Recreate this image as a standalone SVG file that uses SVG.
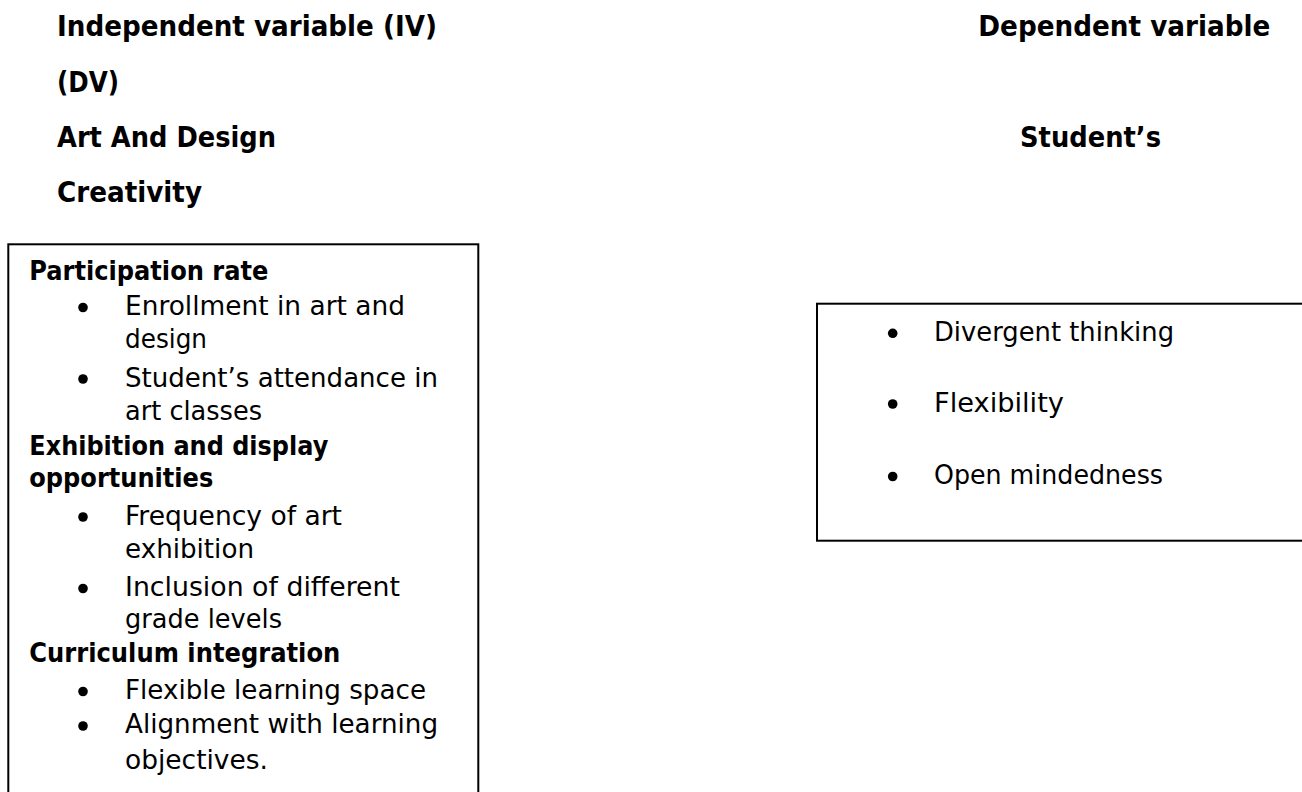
<svg xmlns="http://www.w3.org/2000/svg" width="1302" height="792" viewBox="0 0 1302 792">
<style>
  text { font-family: "DejaVu Sans", "Noto Sans", sans-serif; fill: #000; }
  .h { font-size: 29px; font-weight: bold; }
  .b { font-size: 26px; font-weight: bold; }
  .t { font-size: 26px; }
  .box { fill: #fff; stroke: #000; stroke-width: 2; }
  .dot { fill: #000; }
</style>
<rect width="1302" height="792" fill="#fff"/>
<g id="headings">
  <text class="h" x="57" y="36" textLength="380" lengthAdjust="spacingAndGlyphs">Independent variable (IV)</text>
  <text class="h" x="57" y="92" textLength="62" lengthAdjust="spacingAndGlyphs">(DV)</text>
  <text class="h" x="57" y="147" textLength="219" lengthAdjust="spacingAndGlyphs">Art And Design</text>
  <text class="h" x="57" y="202" textLength="145" lengthAdjust="spacingAndGlyphs">Creativity</text>
  <text class="h" x="978.3" y="36" textLength="292" lengthAdjust="spacingAndGlyphs">Dependent variable</text>
  <text class="h" x="1020" y="147" textLength="141" lengthAdjust="spacingAndGlyphs">Student’s</text>
</g>
<g id="iv-box">
  <rect class="box" x="8.3" y="244.3" width="470" height="600"/>
  <text class="b" x="29.3" y="280" textLength="239" lengthAdjust="spacingAndGlyphs">Participation rate</text>
  <circle class="dot" cx="83" cy="307.5" r="4.8"/>
  <text class="t" x="125" y="315" textLength="280" lengthAdjust="spacingAndGlyphs">Enrollment in art and</text>
  <text class="t" x="125" y="348" textLength="82" lengthAdjust="spacingAndGlyphs">design</text>
  <circle class="dot" cx="83" cy="379" r="4.8"/>
  <text class="t" x="125" y="387" textLength="313" lengthAdjust="spacingAndGlyphs">Student’s attendance in</text>
  <text class="t" x="125" y="420" textLength="137" lengthAdjust="spacingAndGlyphs">art classes</text>
  <text class="b" x="29.3" y="455" textLength="299" lengthAdjust="spacingAndGlyphs">Exhibition and display</text>
  <text class="b" x="29.3" y="487" textLength="184" lengthAdjust="spacingAndGlyphs">opportunities</text>
  <circle class="dot" cx="83" cy="517" r="4.8"/>
  <text class="t" x="125" y="525" textLength="217" lengthAdjust="spacingAndGlyphs">Frequency of art</text>
  <text class="t" x="125" y="558" textLength="129" lengthAdjust="spacingAndGlyphs">exhibition</text>
  <circle class="dot" cx="83" cy="588.5" r="4.8"/>
  <text class="t" x="125" y="596" textLength="275" lengthAdjust="spacingAndGlyphs">Inclusion of different</text>
  <text class="t" x="125" y="628" textLength="157" lengthAdjust="spacingAndGlyphs">grade levels</text>
  <text class="b" x="29.3" y="662" textLength="311" lengthAdjust="spacingAndGlyphs">Curriculum integration</text>
  <circle class="dot" cx="83" cy="691.5" r="4.8"/>
  <text class="t" x="125" y="699" textLength="301" lengthAdjust="spacingAndGlyphs">Flexible learning space</text>
  <circle class="dot" cx="83" cy="726" r="4.8"/>
  <text class="t" x="125" y="733" textLength="313" lengthAdjust="spacingAndGlyphs">Alignment with learning</text>
  <text class="t" x="125" y="769" textLength="143" lengthAdjust="spacingAndGlyphs">objectives.</text>
</g>
<g id="dv-box">
  <rect class="box" x="817" y="303.7" width="520" height="237"/>
  <circle class="dot" cx="892.7" cy="333.3" r="4.8"/>
  <text class="t" x="934" y="341" textLength="240" lengthAdjust="spacingAndGlyphs">Divergent thinking</text>
  <circle class="dot" cx="892.7" cy="404" r="4.8"/>
  <text class="t" x="934" y="412" textLength="130" lengthAdjust="spacingAndGlyphs">Flexibility</text>
  <circle class="dot" cx="892.7" cy="476.5" r="4.8"/>
  <text class="t" x="934" y="484" textLength="229" lengthAdjust="spacingAndGlyphs">Open mindedness</text>
</g>
<g id="connectors"></g>
</svg>
